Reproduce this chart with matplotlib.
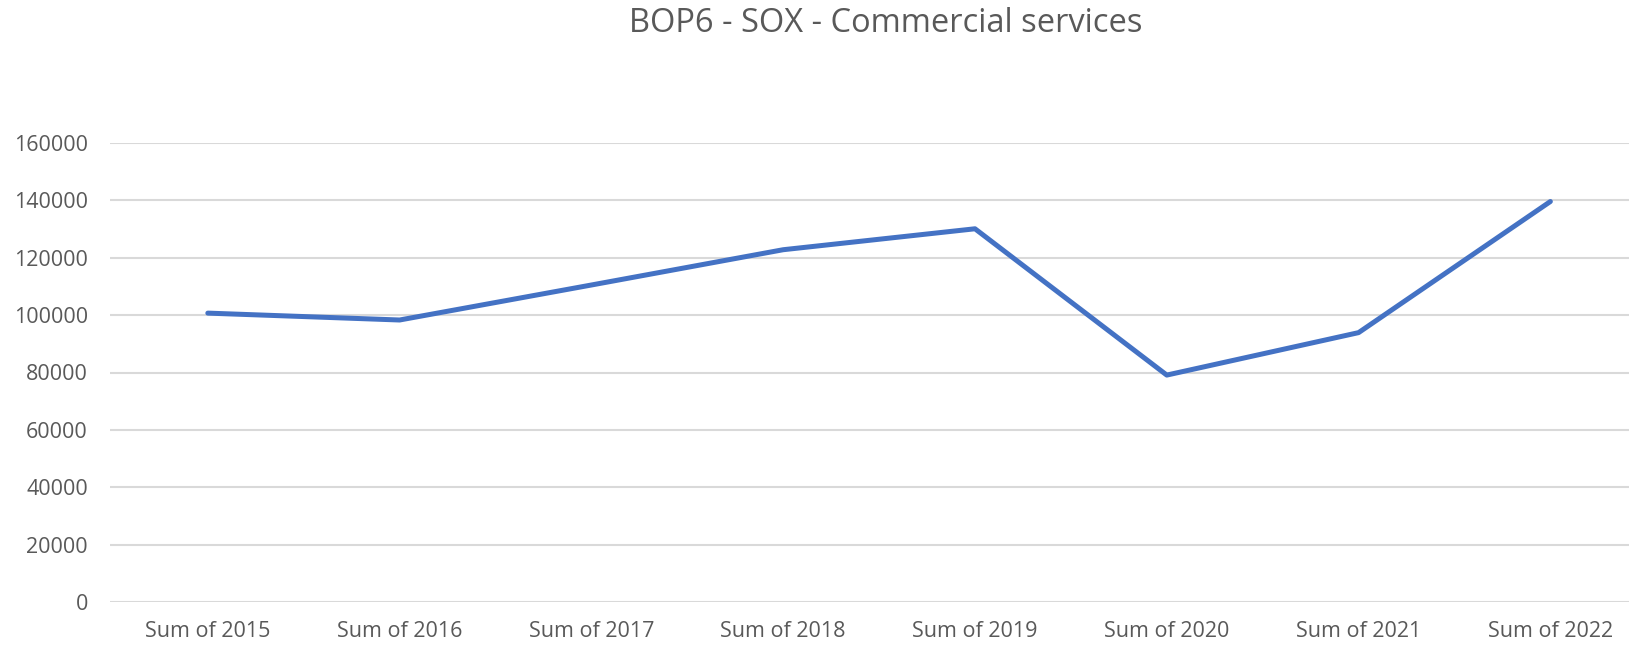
import matplotlib
matplotlib.use("Agg")
import matplotlib.pyplot as plt

# Data
categories = ["Sum of 2015", "Sum of 2016", "Sum of 2017", "Sum of 2018",
              "Sum of 2019", "Sum of 2020", "Sum of 2021", "Sum of 2022"]
values = [100700, 98300, 110500, 122800, 130100, 79100, 93900, 139600]
y_ticks = [0, 20000, 40000, 60000, 80000, 100000, 120000, 140000, 160000]

TITLE = "BOP6 - SOX - Commercial services"
LINE_COLOR = "#4472C4"
TEXT_COLOR = "#595959"
GRID_COLOR = "#D9D9D9"

plt.rcParams["font.family"] = ["Open Sans", "DejaVu Sans"]

W, H = 1629, 646
fig = plt.figure(figsize=(W / 100, H / 100), dpi=100)
left, right, top, bottom = 110, 1629, 143, 602
ax = fig.add_axes([left / W, (H - bottom) / H, (right - left) / W, (bottom - top) / H])

x = list(range(len(categories)))
ax.plot(x, values, color=LINE_COLOR, linewidth=3.6, solid_joinstyle="round",
        solid_capstyle="round", zorder=3)

ax.set_xlim(-0.51, 7.41)
ax.set_ylim(0, 160000)
ax.set_yticks(y_ticks)
ax.set_yticklabels([str(v) for v in y_ticks])
ax.set_xticks(x)
ax.set_xticklabels(categories)

ax.grid(axis="y", color=GRID_COLOR, linewidth=1.5)
ax.set_axisbelow(True)
for s in ax.spines.values():
    s.set_visible(False)
ax.tick_params(axis="both", length=0, colors=TEXT_COLOR, labelsize=15.5)
ax.tick_params(axis="y", pad=16)
ax.tick_params(axis="x", pad=14)

fig.text(886 / W, 1 - 24 / H, TITLE, ha="center", va="center",
         fontsize=23.5, color=TEXT_COLOR)

fig.savefig("out.png", dpi=100)
